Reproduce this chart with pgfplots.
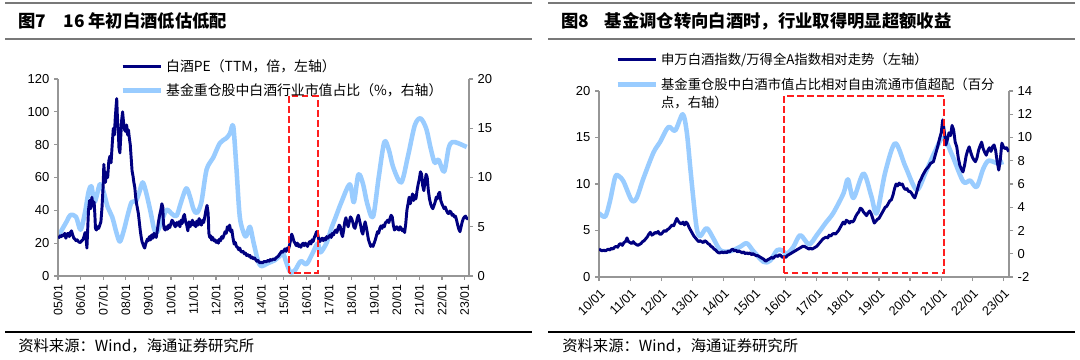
\documentclass[border=0pt]{standalone}
\usepackage{pgfplots}
\pgfplotsset{compat=1.18}
\usepackage{fontspec}
\setmainfont{Liberation Sans}
\newfontfamily\cjk{Noto Sans CJK SC}
\definecolor{navy}{RGB}{0,0,128}
\definecolor{lblue}{RGB}{153,204,255}
\definecolor{axgray}{RGB}{150,150,150}
\definecolor{tgray}{RGB}{120,120,120}
\definecolor{boxred}{RGB}{255,30,30}
\pgfplotsset{
  base/.style={scale only axis, anchor=south west,
    axis line style={axgray, line width=0.9pt},
    tick style={axgray, line width=0.9pt},
    tick align=outside, major tick length=3pt, minor tick num=0,
    ticklabel style={font=\fontsize{9.75}{11}\selectfont, text=black},
    every axis plot/.append style={line join=round},
    legend image code/.code={\draw[##1] (0pt,0pt) -- (29pt,0pt);},
  },
  darkline/.style={navy, line width=2.2pt},
  lightline/.style={lblue, line width=3.4pt},
}
\begin{document}
\begin{tikzpicture}[x=0.75pt,y=0.75pt]
\useasboundingbox (0,0) rectangle (1080,360);
\fill[white] (0,0) rectangle (1080,360);
% frames
\foreach \xa/\xb in {5/532,548/1075}{
  \draw[tgray, line width=1.6pt] (\xa,357) -- (\xb,357);
  \draw[tgray, line width=1.6pt] (\xa,321) -- (\xb,321);
  \draw[black, line width=1.1pt] (\xa,28) -- (\xb,28);
}
\node[anchor=west, font=\cjk\bfseries\fontsize{13}{15}\selectfont, inner sep=0pt] at (18,339) {图7\hspace{1em}16 年初白酒低估低配};
\node[anchor=west, font=\cjk\bfseries\fontsize{13}{15}\selectfont, inner sep=0pt] at (561,339) {图8\hspace{0.9em}基金调仓转向白酒时，行业取得明显超额收益};
\node[anchor=west, font=\cjk\fontsize{11.5}{13}\selectfont, inner sep=0pt] at (18,14) {资料来源：Wind，海通证券研究所};
\node[anchor=west, font=\cjk\fontsize{11.5}{13}\selectfont, inner sep=0pt] at (562,14) {资料来源：Wind，海通证券研究所};

% ===== LEFT PANEL =====
\begin{axis}[base, at={(43.5pt,63pt)}, width=308.25pt, height=147.75pt,
  xmin=2005, xmax=2023.2, ymin=0, ymax=20,
  axis y line*=right, axis x line=none,
  ytick={0,5,10,15,20}, yticklabels={0,5,10,15,20},
  yticklabel style={anchor=west}]
\addplot[lightline, smooth, tension=0.5] coordinates {
(2005.0,4.0) (2005.2,4.8) (2005.4,5.6) (2005.55,6.2) (2005.8,6.0) (2006.0,4.7) (2006.2,6.5) (2006.35,8.5) (2006.48,9.1) (2006.62,7.5) (2006.85,9.3) (2007.0,8.7) (2007.2,7.0) (2007.4,6.0) (2007.6,4.3) (2007.74,3.5) (2007.9,4.5) (2008.1,6.3) (2008.26,7.5) (2008.45,7.6) (2008.6,8.5) (2008.75,9.5) (2008.9,8.5) (2009.1,6.5) (2009.25,4.8) (2009.37,4.4) (2009.55,5.3) (2009.8,6.7) (2010.05,6.3) (2010.25,6.1) (2010.45,7.5) (2010.68,8.9) (2010.85,8.0) (2011.0,6.8) (2011.15,6.4) (2011.35,7.5) (2011.58,10.8) (2011.87,12.0) (2012.17,13.5) (2012.46,14.0) (2012.62,14.5) (2012.76,15.2) (2012.9,11.0) (2013.05,6.0) (2013.25,4.2) (2013.35,4.1) (2013.5,5.0) (2013.65,3.5) (2013.85,1.6) (2014.0,1.0) (2014.3,1.3) (2014.6,1.6) (2014.8,2.0) (2014.97,2.3) (2015.12,1.3) (2015.3,0.35) (2015.5,0.6) (2015.75,1.5) (2016.0,1.2) (2016.25,2.2) (2016.5,3.3) (2016.62,2.4) (2016.9,3.4) (2017.1,4.8) (2017.3,6.0) (2017.55,7.5) (2017.92,9.3) (2018.1,7.5) (2018.3,10.3) (2018.5,9.4) (2018.7,7.3) (2018.95,6.0) (2019.2,10.0) (2019.45,13.6) (2019.65,12.8) (2019.85,11.0) (2020.2,9.5) (2020.5,12.2) (2020.8,15.3) (2021.05,16.0) (2021.3,15.0) (2021.5,13.0) (2021.68,11.5) (2021.85,11.8) (2022.1,10.6) (2022.3,13.0) (2022.46,13.6) (2022.7,13.5) (2023.0,13.2) (2023.1,13.1)
};
\end{axis}
\begin{axis}[base, at={(43.5pt,63pt)}, width=308.25pt, height=147.75pt,
  xmin=2005, xmax=2023.2, ymin=0, ymax=120,
  axis y line*=left, axis x line*=bottom,
  ytick={0,20,...,120}, yticklabels={0,20,40,60,80,100,120},
  xtick={2005,2006,...,2023},
  xticklabels={05/01,06/01,07/01,08/01,09/01,10/01,11/01,12/01,13/01,14/01,15/01,16/01,17/01,18/01,19/01,20/01,21/01,22/01,23/01},
  xticklabel style={rotate=90, anchor=east, font=\fontsize{9.2}{11}\selectfont},
  legend style={at={(0.151,1.115)}, anchor=north west, draw=none, fill=none, inner sep=0pt,
    row sep=4pt, font=\cjk\fontsize{10.4}{12}\selectfont},
  legend cell align=left]
\addplot[darkline] coordinates {
(2005.00,24) (2005.05,23.5) (2005.10,24.5) (2005.15,24) (2005.20,25) (2005.25,24.5) (2005.30,26) (2005.35,23) (2005.40,25.5) (2005.45,26) (2005.50,24) (2005.55,26.5) (2005.60,27.5) (2005.65,25) (2005.70,23) (2005.75,22.5) (2005.80,21.5) (2005.85,22) (2005.90,21) (2005.95,20.5)
(2006.00,20.5) (2006.05,21.5) (2006.10,22) (2006.15,24) (2006.20,26.5) (2006.25,22) (2006.28,17) (2006.32,30) (2006.35,40) (2006.40,46) (2006.45,41) (2006.50,48) (2006.55,43) (2006.60,45) (2006.63,38) (2006.66,29) (2006.70,28) (2006.75,30) (2006.80,29) (2006.85,31) (2006.90,33) (2006.95,42)
(2007.00,55) (2007.03,68) (2007.06,62) (2007.10,57) (2007.15,63) (2007.20,60) (2007.25,70) (2007.30,73) (2007.35,69) (2007.40,80) (2007.45,90) (2007.50,86) (2007.53,95) (2007.57,103) (2007.60,108) (2007.63,97) (2007.67,88) (2007.70,78) (2007.74,75) (2007.78,85) (2007.82,95) (2007.86,100) (2007.90,94) (2007.95,89)
(2008.00,88) (2008.04,92) (2008.08,86) (2008.12,89) (2008.16,84) (2008.20,80) (2008.24,72) (2008.28,64) (2008.32,61) (2008.36,57) (2008.40,54) (2008.44,48) (2008.48,44) (2008.52,41) (2008.56,38) (2008.60,33) (2008.64,28) (2008.68,24) (2008.72,21) (2008.76,19.5) (2008.80,18) (2008.84,17) (2008.88,19.5) (2008.92,21) (2008.96,22.5)
(2009.00,21.5) (2009.05,24) (2009.10,22) (2009.15,25) (2009.20,23) (2009.25,26) (2009.30,24.5) (2009.35,23.5) (2009.40,28) (2009.45,33) (2009.50,37) (2009.55,40) (2009.60,44) (2009.64,42) (2009.67,32) (2009.70,29) (2009.75,28) (2009.80,30) (2009.85,28.5) (2009.90,31) (2009.95,29.5)
(2010.00,32) (2010.05,34) (2010.10,33) (2010.15,31) (2010.20,30) (2010.25,32.5) (2010.30,31) (2010.35,33) (2010.40,30) (2010.45,34) (2010.50,32) (2010.55,36) (2010.60,37.5) (2010.65,33) (2010.70,31) (2010.75,27.5) (2010.80,33) (2010.85,30) (2010.90,32) (2010.95,34)
(2011.00,31) (2011.05,32.5) (2011.10,30) (2011.15,33.5) (2011.20,31) (2011.25,35) (2011.30,32) (2011.35,31) (2011.40,34) (2011.45,32.5) (2011.50,36) (2011.55,40) (2011.60,43) (2011.65,38) (2011.68,26) (2011.72,23.5) (2011.76,24.5) (2011.80,22) (2011.85,23.5) (2011.90,21.5) (2011.95,22)
(2012.00,20.5) (2012.05,21.5) (2012.10,20) (2012.15,22.5) (2012.20,21.5) (2012.25,24) (2012.30,23) (2012.35,25) (2012.40,27) (2012.45,26) (2012.50,30) (2012.55,28) (2012.60,31) (2012.65,27) (2012.70,28) (2012.75,23) (2012.80,19.5) (2012.85,20.5) (2012.90,18) (2012.95,17.5)
(2013.00,16) (2013.05,17) (2013.10,15) (2013.15,14.5) (2013.20,15) (2013.25,13.5) (2013.30,14) (2013.35,12.5) (2013.40,13) (2013.45,12) (2013.50,12.5) (2013.55,11) (2013.60,11.5) (2013.65,10.5) (2013.70,11) (2013.75,10) (2013.80,9) (2013.85,9.5) (2013.90,8.5) (2013.95,8)
(2014.00,8.5) (2014.05,8) (2014.10,8.5) (2014.15,9) (2014.20,8.5) (2014.25,9) (2014.30,9.5) (2014.35,9) (2014.40,10) (2014.45,9.5) (2014.50,10) (2014.55,10.5) (2014.60,10) (2014.65,11) (2014.70,11.5) (2014.75,12) (2014.80,13) (2014.85,14) (2014.90,15) (2014.95,14.5)
(2015.00,15.5) (2015.05,16.5) (2015.10,15) (2015.15,17) (2015.20,16) (2015.25,18.5) (2015.30,22) (2015.35,25.5) (2015.40,23.5) (2015.45,21) (2015.50,20) (2015.55,18.5) (2015.60,20) (2015.65,18) (2015.70,19) (2015.75,17.5) (2015.80,19) (2015.85,20) (2015.90,18.5) (2015.95,20)
(2016.00,19) (2016.05,18) (2016.10,20) (2016.15,21) (2016.20,19.5) (2016.25,22) (2016.30,21) (2016.35,23.5) (2016.40,25) (2016.45,27) (2016.50,25.5) (2016.55,22) (2016.60,21) (2016.65,22.5) (2016.70,23) (2016.75,21.5) (2016.80,23) (2016.85,22) (2016.90,24) (2016.95,23)
(2017.00,24) (2017.05,25) (2017.10,23.5) (2017.15,26) (2017.20,25) (2017.25,27) (2017.30,28) (2017.35,26.5) (2017.40,29) (2017.45,31) (2017.50,30) (2017.55,26) (2017.60,24) (2017.65,28) (2017.70,33) (2017.75,35.5) (2017.80,32) (2017.85,30) (2017.90,33) (2017.95,36)
(2018.00,35) (2018.05,33) (2018.10,30) (2018.15,29) (2018.20,31.5) (2018.25,35) (2018.30,37) (2018.35,34) (2018.40,31) (2018.45,27) (2018.50,25.5) (2018.55,30) (2018.60,33) (2018.65,30) (2018.70,26) (2018.75,22) (2018.80,20) (2018.85,18) (2018.90,19) (2018.95,18)
(2019.00,20) (2019.05,22) (2019.10,24.5) (2019.15,27) (2019.20,26) (2019.25,29) (2019.30,30.5) (2019.35,29) (2019.40,31) (2019.45,30) (2019.50,32.5) (2019.55,33) (2019.60,34) (2019.65,32.5) (2019.70,35) (2019.75,37) (2019.80,36) (2019.85,31) (2019.90,28) (2019.95,29)
(2020.00,30) (2020.05,28.5) (2020.10,28) (2020.15,30) (2020.20,29) (2020.25,27.5) (2020.30,28.5) (2020.35,26.5) (2020.40,32) (2020.45,40) (2020.50,44) (2020.55,48) (2020.60,44) (2020.65,47) (2020.70,50) (2020.75,46) (2020.80,49) (2020.85,47) (2020.90,52) (2020.95,56)
(2021.00,59) (2021.05,63.5) (2021.10,62) (2021.15,55) (2021.20,52) (2021.25,57) (2021.30,62) (2021.35,60) (2021.40,52) (2021.45,47) (2021.50,44) (2021.55,42) (2021.60,41) (2021.65,43) (2021.70,45) (2021.75,48) (2021.80,47) (2021.85,50) (2021.90,51) (2021.95,46)
(2022.00,44) (2022.05,42.5) (2022.10,41) (2022.15,42) (2022.20,40) (2022.25,38.5) (2022.30,38) (2022.35,39.5) (2022.40,39) (2022.45,37) (2022.50,37.5) (2022.55,36) (2022.60,36.5) (2022.65,34) (2022.70,31) (2022.75,28.5) (2022.80,27) (2022.85,30) (2022.90,33) (2022.95,35)
(2023.00,36) (2023.05,36.5) (2023.10,35) (2023.15,35)
};
\addlegendentry{白酒PE（TTM，倍，左轴）}
\addlegendimage{lightline}
\addlegendentry{基金重仓股中白酒行业市值占比（\%，右轴）}
\draw[boxred, line width=1.4pt, dash pattern=on 5pt off 2.5pt] (axis cs:2015.22,1.8) rectangle (axis cs:2016.5,109.6);
\end{axis}

% ===== RIGHT PANEL =====
\begin{axis}[base, at={(449.25pt,62.25pt)}, width=307.5pt, height=139.5pt,
  xmin=2010, xmax=2023.18, ymin=-2, ymax=14,
  axis y line*=right, axis x line=none,
  ytick={-2,0,...,14}, yticklabels={-2,0,2,4,6,8,10,12,14},
  yticklabel style={anchor=west}]
\addplot[lightline, smooth, tension=0.5] coordinates {
(2010.0,3.5) (2010.2,3.2) (2010.35,4.5) (2010.52,6.6) (2010.63,6.7) (2010.79,6.2) (2011.05,4.6) (2011.21,4.8) (2011.43,6.5) (2011.75,8.7) (2011.96,9.6) (2012.23,10.9) (2012.45,10.6) (2012.69,12.0) (2012.82,10.5) (2012.93,7.5) (2013.03,4.8) (2013.14,2.2) (2013.25,1.5) (2013.46,2.2) (2013.68,1.3) (2013.9,0.3) (2014.2,0.2) (2014.54,0.6) (2014.75,0.9) (2014.97,0.2) (2015.29,-0.7) (2015.5,-0.6) (2015.72,0.3) (2015.88,0.3) (2016.04,0.0) (2016.25,0.6) (2016.47,1.6) (2016.75,0.8) (2017.0,1.6) (2017.3,2.7) (2017.53,3.5) (2017.86,5.2) (2018.0,6.4) (2018.18,4.8) (2018.5,6.9) (2018.75,5.0) (2018.93,3.5) (2019.2,7.0) (2019.52,9.5) (2019.85,7.5) (2020.21,5.5) (2020.5,7.0) (2020.8,8.8) (2021.07,10.0) (2021.35,8.5) (2021.71,6.2) (2021.93,6.3) (2022.14,5.75) (2022.35,7.3) (2022.52,8.0) (2022.8,7.8) (2023.0,7.9)
};
\end{axis}
\begin{axis}[base, at={(449.25pt,62.25pt)}, width=307.5pt, height=139.5pt,
  xmin=2010, xmax=2023.18, ymin=0, ymax=20,
  axis y line*=left, axis x line*=bottom,
  ytick={0,5,10,15,20}, yticklabels={0,5,10,15,20},
  xtick={2010,2011,...,2023},
  xticklabels={10/01,11/01,12/01,13/01,14/01,15/01,16/01,17/01,18/01,19/01,20/01,21/01,22/01,23/01},
  xticklabel style={rotate=45, anchor=north east, font=\fontsize{9.5}{11}\selectfont},
  legend style={at={(0.039,1.22)}, anchor=north west, draw=none, fill=none, inner sep=0pt,
    row sep=4pt, font=\cjk\fontsize{10}{13.5}\selectfont},
  legend cell align=left]
\addplot[darkline] coordinates {
(2010.00,3.0) (2010.05,2.9) (2010.10,2.8) (2010.15,2.9) (2010.20,2.8) (2010.25,2.9) (2010.30,3.0) (2010.35,2.9) (2010.40,3.1) (2010.45,3.0) (2010.50,3.2) (2010.55,3.3) (2010.60,3.2) (2010.65,3.5) (2010.70,3.6) (2010.75,3.4) (2010.80,3.7) (2010.85,3.8) (2010.90,4.2) (2010.95,3.8)
(2011.00,3.7) (2011.05,3.6) (2011.10,3.8) (2011.15,3.6) (2011.20,3.5) (2011.25,3.4) (2011.30,3.5) (2011.35,3.6) (2011.40,3.8) (2011.45,3.9) (2011.50,4.1) (2011.55,4.3) (2011.60,4.6) (2011.65,4.8) (2011.70,4.5) (2011.75,4.6) (2011.80,4.8) (2011.85,4.7) (2011.90,4.9) (2011.95,4.6)
(2012.00,4.6) (2012.05,4.8) (2012.10,5.0) (2012.15,4.9) (2012.20,5.1) (2012.25,5.2) (2012.30,5.4) (2012.35,5.6) (2012.40,5.5) (2012.45,5.9) (2012.50,6.3) (2012.55,6.0) (2012.60,5.8) (2012.65,5.7) (2012.70,5.9) (2012.75,5.6) (2012.80,5.9) (2012.85,5.7) (2012.90,5.3) (2012.95,5.0)
(2013.00,4.7) (2013.05,4.4) (2013.10,4.2) (2013.15,4.0) (2013.20,3.8) (2013.25,3.9) (2013.30,3.8) (2013.35,3.7) (2013.40,3.9) (2013.45,3.8) (2013.50,3.6) (2013.55,3.5) (2013.60,3.3) (2013.65,3.2) (2013.70,3.0) (2013.75,2.9) (2013.80,2.7) (2013.85,2.6) (2013.90,2.6) (2013.95,2.7)
(2014.00,2.6) (2014.05,2.7) (2014.10,2.6) (2014.15,2.8) (2014.20,2.7) (2014.25,2.9) (2014.30,3.0) (2014.35,2.8) (2014.40,2.9) (2014.45,2.7) (2014.50,2.8) (2014.55,2.7) (2014.60,2.6) (2014.65,2.7) (2014.70,2.5) (2014.75,2.6) (2014.80,2.5) (2014.85,2.6) (2014.90,2.4) (2014.95,2.5)
(2015.00,2.4) (2015.05,2.3) (2015.10,2.3) (2015.15,2.2) (2015.20,2.1) (2015.25,2.0) (2015.30,1.9) (2015.35,1.7) (2015.40,1.8) (2015.45,1.9) (2015.50,2.0) (2015.55,2.1) (2015.60,2.0) (2015.65,2.2) (2015.70,2.3) (2015.75,2.2) (2015.80,2.4) (2015.85,2.3) (2015.90,2.1) (2015.95,2.2)
(2016.00,2.1) (2016.05,2.3) (2016.10,2.4) (2016.15,2.5) (2016.20,2.6) (2016.25,2.7) (2016.30,2.8) (2016.35,2.9) (2016.40,3.0) (2016.45,3.1) (2016.50,3.2) (2016.55,3.3) (2016.60,3.3) (2016.65,3.2) (2016.70,3.1) (2016.75,3.0) (2016.80,3.1) (2016.85,3.0) (2016.90,3.1) (2016.95,3.2)
(2017.00,3.3) (2017.05,3.5) (2017.10,3.7) (2017.15,3.9) (2017.20,4.1) (2017.25,4.2) (2017.30,4.3) (2017.35,4.2) (2017.40,4.5) (2017.45,4.4) (2017.50,4.6) (2017.55,4.7) (2017.60,4.6) (2017.65,4.8) (2017.70,5.0) (2017.75,5.3) (2017.80,5.6) (2017.85,5.9) (2017.90,5.7) (2017.95,6.1)
(2018.00,6.0) (2018.05,5.8) (2018.10,6.0) (2018.15,5.9) (2018.20,6.1) (2018.25,6.5) (2018.30,6.8) (2018.35,7.0) (2018.40,7.4) (2018.45,7.3) (2018.50,7.0) (2018.55,6.8) (2018.60,6.6) (2018.65,6.9) (2018.70,7.1) (2018.75,6.8) (2018.80,6.3) (2018.85,5.8) (2018.90,6.0) (2018.95,6.2)
(2019.00,6.3) (2019.05,6.6) (2019.10,6.9) (2019.15,7.2) (2019.20,7.5) (2019.25,7.6) (2019.30,7.9) (2019.35,8.2) (2019.40,8.3) (2019.45,8.8) (2019.50,9.5) (2019.55,10.0) (2019.60,9.8) (2019.65,10.1) (2019.70,9.9) (2019.75,10.0) (2019.80,9.6) (2019.85,9.4) (2019.90,9.5) (2019.95,9.2)
(2020.00,9.2) (2020.05,9.0) (2020.10,8.7) (2020.15,8.5) (2020.20,9.0) (2020.25,9.6) (2020.30,10.2) (2020.35,10.5) (2020.40,10.9) (2020.45,11.2) (2020.50,11.5) (2020.55,11.7) (2020.60,11.9) (2020.65,12.2) (2020.70,12.3) (2020.75,12.4) (2020.80,13.0) (2020.85,13.6) (2020.90,14.2) (2020.95,14.9)
(2021.00,15.5) (2021.05,16.9) (2021.10,15.6) (2021.15,14.2) (2021.20,14.8) (2021.25,15.5) (2021.30,15.2) (2021.35,16.3) (2021.40,15.8) (2021.45,14.5) (2021.50,14.0) (2021.55,12.8) (2021.60,12.0) (2021.65,11.6) (2021.70,11.3) (2021.75,12.0) (2021.80,13.0) (2021.85,13.6) (2021.90,14.0) (2021.95,13.4)
(2022.00,12.9) (2022.05,12.6) (2022.10,12.4) (2022.15,12.8) (2022.20,13.6) (2022.25,14.1) (2022.30,14.5) (2022.35,13.8) (2022.40,13.4) (2022.45,13.1) (2022.50,13.6) (2022.55,13.9) (2022.60,13.5) (2022.65,14.0) (2022.70,14.2) (2022.75,13.6) (2022.80,12.4) (2022.85,11.5) (2022.90,12.6) (2022.95,14.4)
(2023.00,14.0) (2023.05,13.8) (2023.10,13.9) (2023.15,13.6) (2023.18,13.5)
};
\addlegendentry{申万白酒指数/万得全A指数相对走势（左轴）}
\addlegendimage{lightline}
\addlegendentry{\begin{tabular}[t]{@{}l@{}}基金重仓股中白酒市值占比相对自由流通市值超配（百分\\点，右轴）\end{tabular}}
\draw[boxred, line width=1.4pt, dash pattern=on 5pt off 2.5pt] (axis cs:2015.95,0.43) rectangle (axis cs:2021.1,19.46);
\end{axis}
\end{tikzpicture}
\end{document}
